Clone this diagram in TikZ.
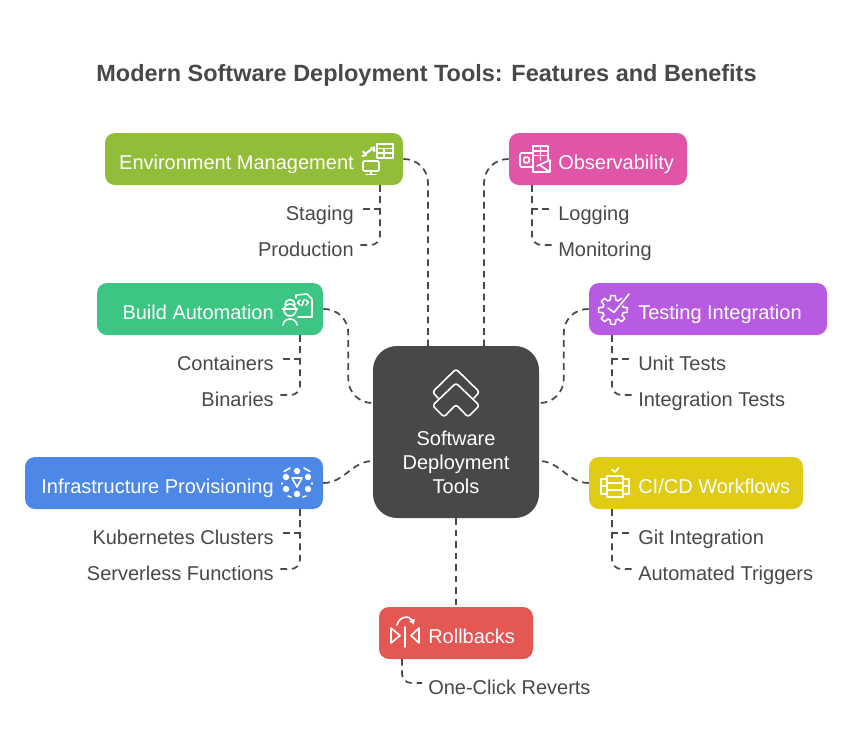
\documentclass[tikz,border=0pt]{standalone}
\usepackage{fontspec}
\setmainfont{Liberation Sans}
\usetikzlibrary{arrows.meta, positioning, calc}
\definecolor{inkgray}{HTML}{484848}
\definecolor{envgreen}{HTML}{92BD39}
\definecolor{obspink}{HTML}{E055A8}
\definecolor{buildgreen}{HTML}{3CC583}
\definecolor{testpurple}{HTML}{B75BE3}
\definecolor{infrablue}{HTML}{4E88E7}
\definecolor{cdyellow}{HTML}{E0CB15}
\definecolor{rollred}{HTML}{E55753}
\tikzset{
    tbox/.style={rectangle,rounded corners=7.5pt,minimum height=39pt,inner sep=0pt},
    boxtext/.style={text=white,inner sep=0pt,font=\fontsize{15}{18}\selectfont},
    item/.style={text=inkgray,inner xsep=4.5pt,inner ysep=0pt,text height=18.5pt,text depth=2pt,font=\fontsize{15}{18}\selectfont},
    link/.style={draw=inkgray,line width=1.3pt,dash pattern=on 5pt off 3.6pt},
    ico/.style={draw=white,line width=1.2pt,line join=round,line cap=round}
}
\begin{document}
\begin{tikzpicture}[x=0.75pt,y=-0.75pt]
\useasboundingbox (0,0) rectangle (852,754);
\node[text=inkgray,anchor=base,inner sep=0pt,font=\bfseries\fontsize{17.6}{20}\selectfont] (title) at (426.5,81) {Modern Software Deployment Tools: Features and Benefits};
% Central box
\node[rectangle,rounded corners=18pt,fill=inkgray,minimum width=124.5pt,minimum height=129pt,inner sep=0pt] (hub) at (456,432) {};
\node[text=white,align=center,inner sep=0pt,font=\fontsize{15}{18}\selectfont] (hubtext) at (456,462) {Software\\Deployment\\Tools};
\coordinate (hubn1) at (428,346);
\coordinate (hubn2) at (484,346);
\coordinate (hubw1) at (373,403);
\coordinate (hubw2) at (373,461);
\coordinate (hube1) at (539,403);
\coordinate (hube2) at (539,461);
% Coloured boxes
\foreach \nm/\xc/\yc/\bw/\col in {env/254/159/298/envgreen,obs/598/159/178/obspink,build/210/309/226/buildgreen,test/708/309/238/testpurple,infra/174/483/298/infrablue,cicd/696/483/214/cdyellow,roll/456/633/154/rollred} {
    \node[tbox,fill=\col,minimum width=\bw*0.75pt] (\nm) at (\xc,\yc) {};
}
% Box labels
\foreach \nm/\xx/\yy/\txt in {envlab/354/169/Environment Management,buildlab/274/319/Build Automation,infralab/274/493/Infrastructure Provisioning} {
    \node[boxtext,anchor=base east] (\nm) at (\xx,\yy) {\txt};
}
\foreach \nm/\xx/\yy/\txt in {obslab/558/169/Observability,testlab/638/319/Testing Integration,cicdlab/638/493/{CI/CD Workflows},rolllab/428/643/Rollbacks} {
    \node[boxtext,anchor=base west] (\nm) at (\xx,\yy) {\txt};
}
% Sub items
\foreach \nm/\xx/\yy/\txt in {staging/360/209/Staging,production/360/245/Production,containers/280/359/Containers,binaries/280/395/Binaries,kube/280/533/Kubernetes Clusters,serverless/280/569/Serverless Functions} {
    \node[item,anchor=east] (\nm) at (\xx,\yy) {\txt};
}
\foreach \nm/\xx/\yy/\txt in {logging/552/209/Logging,monitoring/552/245/Monitoring,unit/632/359/Unit Tests,integration/632/395/Integration Tests,git/632/533/Git Integration,triggers/632/569/Automated Triggers,reverts/422/683/One-Click Reverts} {
    \node[item,anchor=west] (\nm) at (\xx,\yy) {\txt};
}
% Trunks under the boxes
\coordinate (envt) at (380,185);
\coordinate (obst) at (532,185);
\coordinate (buildt) at (300,335);
\coordinate (testt) at (612,335);
\coordinate (infrat) at (300,509);
\coordinate (cicdt) at (612,509);
\coordinate (rollt) at (402,659);
% Connections to the centre
\draw[link,rounded corners=18pt] (env.east) -| (hubn1);
\draw[link,rounded corners=18pt] (obs.west) -| (hubn2);
\draw[link,rounded corners=18pt] (build.east) -- ++(25,0) |- (hubw1);
\draw[link,rounded corners=18pt] (test.west) -- ++(-25,0) |- (hube1);
\draw[link] (infra.east) to[out=0,in=180] (hubw2);
\draw[link] (cicd.west) to[out=180,in=0] (hube2);
\draw[link] (hub.south) -- (roll.north);
% Connections to the items
\foreach \ta/\tb/\tc in {envt/staging/production,buildt/containers/binaries,infrat/kube/serverless} {
    \draw[link] (\ta) |- (\tb.east);
    \draw[link,rounded corners=7pt] (\ta) |- (\tc.east);
}
\foreach \ta/\tb/\tc in {obst/logging/monitoring,testt/unit/integration,cicdt/git/triggers} {
    \draw[link] (\ta) |- (\tb.west);
    \draw[link,rounded corners=7pt] (\ta) |- (\tc.west);
}
\draw[link,rounded corners=7pt] (rollt) |- (reverts.west);
% Centre icon
\draw[ico,rounded corners=2pt] (456,383) -- (479.5,405.5) -- (468,417) -- (456,404.5) -- (444,417) -- (432.5,405.5) -- cycle;
\draw[ico,rounded corners=2pt] (474,398) -- (479.5,392) -- (456,369) -- (432.5,392) -- (438,398);
% Environment icon
\draw[ico] (377,144) rectangle (393,158) (377,148.5) -- (393,148.5) (377,153) -- (393,153) (384,148.5) -- (384,158);
\draw[ico,rounded corners=1pt] (363,161) rectangle (379,171);
\draw[ico] (371,171) -- (371,174) (366,174.5) -- (376,174.5);
\draw[ico,line width=1.5pt] (365,154) -- (372,149) (363,151.5) -- (366,155) -- (362.5,156) (374,147) -- (374.5,151) -- (371,147.5);
% Observability icon
\draw[ico] (533,160) -- (533,146) -- (548,146) -- (548,160) (533,151) -- (548,151) (540.5,146) -- (540.5,160) (533,155.5) -- (548,155.5);
\draw[ico,rounded corners=1pt] (520,153) rectangle (533,167);
\draw[ico] (526.5,160) circle (3);
\draw[ico] (533,172) -- (550,172) -- (550,160) -- (537,166) (533,167) -- (533,172) (550,172) -- (541,166);
% Build icon
\draw[ico] (296,298) -- (296,295) -- (307,294) -- (312,299) -- (312,317) -- (298,317);
\draw[ico] (300,300) -- (297.5,302.5) -- (300,305) (306,300) -- (308.5,302.5) -- (306,305) (304,299.5) -- (302,305.5);
\draw[ico] (290,310) circle (6) (282.5,309) -- (297.5,309) (285,304.5) arc (180:360:5);
\draw[ico] (283,325) .. controls (284,317) and (296,317) .. (297,325);
% Testing icon
\begin{scope}[shift={(613,310)}]
\draw[ico] (-9:14.5) \foreach \ang in {0,45,...,315} {-- (\ang-9:14.5) -- (\ang+9:14.5) -- (\ang+15:10.5) -- (\ang+30:10.5)} -- cycle;
\end{scope}
\draw[testpurple,line width=3.5pt] (614,312) -- (629,294);
\draw[ico] (608,308) -- (614,312.5) -- (629,294);
% Infrastructure icon
\foreach \xx/\yy in {297/471,286/477,308/477,286/489,308/489,297/494} {
    \draw[ico,line width=1pt,fill=white] (\xx,\yy) circle (2.5);
}
\draw[ico] (292,478) -- (302,478) -- (297,487) -- cycle;
\draw[ico] (290,468) -- (284,471.5) (304,468) -- (310,471.5) (282,483) -- (282,484) (312,483) -- (312,484) (288,496) -- (291,497) (306,496) -- (303,497);
% CI/CD icon
\draw[ico] (607,476) rectangle (623,497) (607,483) -- (623,483) (607,490) -- (623,490);
\draw[ico] (607,479) -- (601,479) -- (601,494) -- (607,494) (601,486) -- (607,486);
\draw[ico] (623,479) -- (629,479) -- (629,494) -- (623,494) (623,486) -- (629,486);
\draw[ico] (612,469.5) -- (615,472) -- (618.5,468);
% Rollbacks icon
\draw[ico] (391,628) -- (391,643) -- (400,635.5) -- cycle;
\draw[ico] (419,628) -- (419,643) -- (411,635.5) -- cycle;
\draw[ico] (405,627) -- (405,647);
\draw[ico,-{Latex[length=4pt,width=5pt]}] (397,625) .. controls (399,616) and (410,615) .. (414,625);
\end{tikzpicture}
\end{document}
